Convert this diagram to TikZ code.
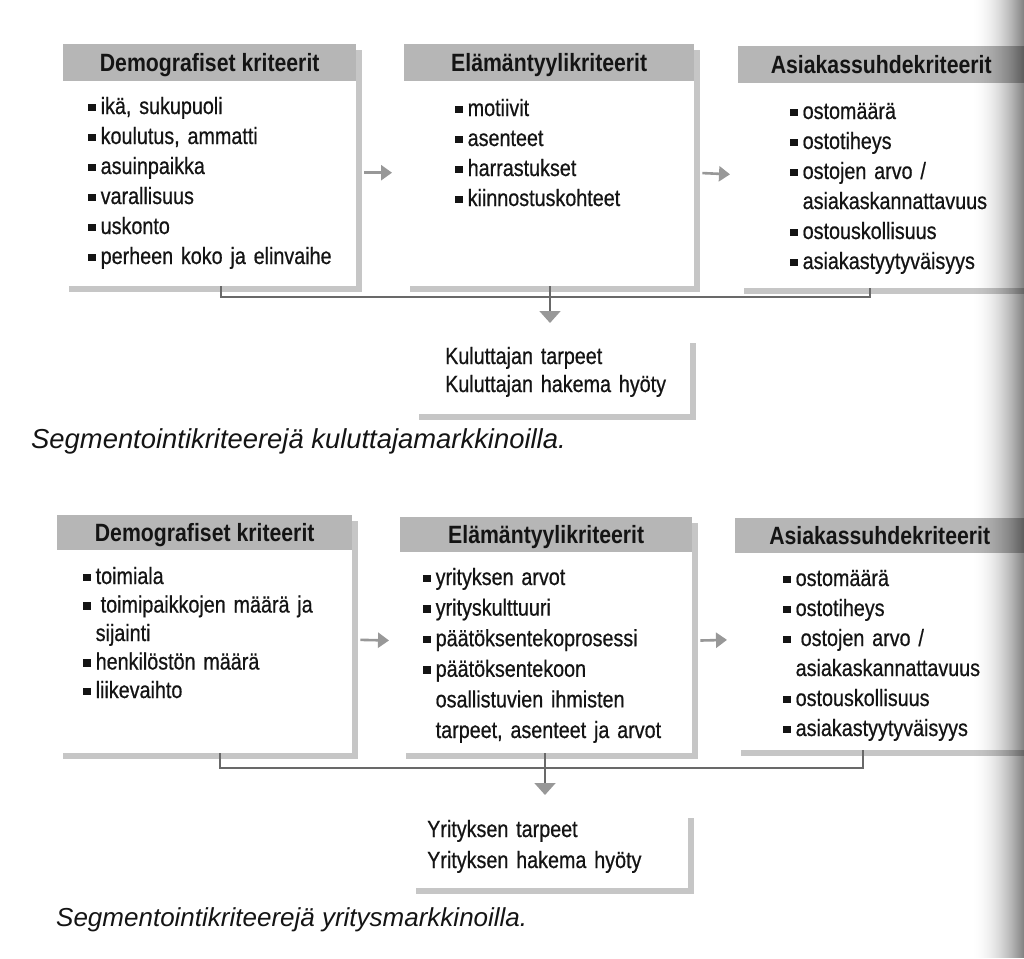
\documentclass[tikz,border=0pt]{standalone}
\usepackage{fontspec}
\newfontfamily\cond{Liberation Sans}[FakeStretch=0.85]
\newfontfamily\condm{Liberation Sans}[FakeStretch=0.84, FakeBold=0.6]
\newfontfamily\capf{Liberation Sans}
\usetikzlibrary{arrows.meta,backgrounds}
\definecolor{hdrgray}{RGB}{182,182,182}
\definecolor{shdgray}{RGB}{198,198,198}
\definecolor{arrgray}{RGB}{152,152,152}
\definecolor{lngray}{RGB}{105,105,105}
\definecolor{ink}{RGB}{20,20,20}
\newcommand{\bsq}{\raisebox{3pt}{\rule{7.5pt}{7.5pt}}\hspace{5pt}}
\newcommand{\bsqw}{\raisebox{3pt}{\rule{7.5pt}{7.5pt}}\hspace{10pt}}
\newcommand{\cnt}{\hspace{12.5pt}}
\begin{document}
\begin{tikzpicture}[x=1pt,y=-1pt,
  hdr/.style={fill=hdrgray, inner sep=0pt, anchor=north west, text=ink,
    font=\cond\bfseries\fontsize{25}{30}\selectfont, text height=18pt, text depth=0pt},
  body/.style={fill=white, inner sep=0pt, anchor=north west},
  txt/.style={inner sep=0pt, anchor=base west, text width=300pt, align=left, text=ink},
  f30/.style={font=\condm\fontsize{23.5}{30}\selectfont},
  f28/.style={font=\condm\fontsize{23.5}{28.5}\selectfont},
  f31/.style={font=\condm\fontsize{23.5}{30.6}\selectfont},
  capt/.style={inner sep=0pt, anchor=base west, text=ink},
  conn/.style={draw=lngray, line width=1.8pt},
  harrow/.style={draw=arrgray, line width=2.6pt, -{Triangle[length=11pt,width=15pt]}},
  varrow/.style={draw=lngray, line width=1.8pt, -{Triangle[length=12pt,width=21pt,color=arrgray]}}
]
\useasboundingbox (0,0) rectangle (1024,958);

% ---------- top diagram ----------
\node[hdr, minimum width=293pt, minimum height=37pt] (h1) at (63,44) {Demografiset kriteerit};
\node[body, minimum width=293pt, minimum height=205pt] (b1) at (63,81) {};
\node[hdr, minimum width=290pt, minimum height=37pt] (h2) at (404,44) {Elämäntyylikriteerit};
\node[body, minimum width=290pt, minimum height=205pt] (b2) at (404,81) {};
\node[hdr, minimum width=286pt, minimum height=37pt] (h3) at (738,46) {Asiakassuhdekriteerit};
\node[body, minimum width=286pt, minimum height=205pt] (b3) at (738,83) {};
\node[body, minimum width=277pt, minimum height=77pt] (r1) at (413,337) {};

\node[txt, f30] (t1) at (88,114) {\bsq ikä, sukupuoli\\ \bsq koulutus, ammatti\\ \bsq asuinpaikka\\ \bsq varallisuus\\ \bsq uskonto\\ \bsq perheen koko ja elinvaihe};
\node[txt, f30] (t2) at (455,116) {\bsq motiivit\\ \bsq asenteet\\ \bsq harrastukset\\ \bsq kiinnostuskohteet};
\node[txt, f30] (t3) at (790,119) {\bsq ostomäärä\\ \bsq ostotiheys\\ \bsq ostojen arvo /\\ \cnt asiakaskannattavuus\\ \bsq ostouskollisuus\\ \bsq asiakastyytyväisyys};
\node[txt, font=\condm\fontsize{23.5}{28}\selectfont] (t4) at (445,364) {Kuluttajan tarpeet\\ Kuluttajan hakema hyöty};
\node[capt, font=\capf\itshape\fontsize{27.4}{30}\selectfont] (c1) at (31,448) {Segmentointikriteerejä kuluttajamarkkinoilla.};

\draw[harrow, shorten <=8pt, shorten >=12pt] ([yshift=11pt]b1.east) -- ([yshift=11pt]b2.west);
\draw[harrow, shorten <=8pt, shorten >=8pt] ([yshift=11pt]b2.east) -- ([yshift=11pt]b3.west);
\coordinate (jl) at (221,297);
\coordinate (jm) at (550,297);
\coordinate (jr) at (870,297);
\draw[conn] (b1.south -| jl) -- (jl) -- (jr) -- (b3.south -| jr);
\draw[conn] (b2.south -| jm) -- (jm);
\draw[varrow, shorten >=14pt] (jm) -- (r1.north -| jm);

% ---------- bottom diagram ----------
\node[hdr, minimum width=295pt, minimum height=35pt] (h4) at (57,515) {Demografiset kriteerit};
\node[body, minimum width=295pt, minimum height=203pt] (b4) at (57,550) {};
\node[hdr, minimum width=292pt, minimum height=35pt] (h5) at (400,517) {Elämäntyylikriteerit};
\node[body, minimum width=292pt, minimum height=201pt] (b5) at (400,552) {};
\node[hdr, minimum width=289pt, minimum height=35pt] (h6) at (735,518) {Asiakassuhdekriteerit};
\node[body, minimum width=289pt, minimum height=197pt] (b6) at (735,553) {};
\node[body, minimum width=278pt, minimum height=76pt] (r2) at (410,812) {};

\node[txt, f28] (t5) at (83,584) {\bsq toimiala\\ \bsqw toimipaikkojen määrä ja\\ \cnt sijainti\\ \bsq henkilöstön määrä\\ \bsq liikevaihto};
\node[txt, f31] (t6) at (423,585) {\bsq yrityksen arvot\\ \bsq yrityskulttuuri\\ \bsq päätöksentekoprosessi\\ \bsq päätöksentekoon\\ \cnt osallistuvien ihmisten\\ \cnt tarpeet, asenteet ja arvot};
\node[txt, f30] (t7) at (783,586) {\bsq ostomäärä\\ \bsq ostotiheys\\ \bsqw ostojen arvo /\\ \cnt asiakaskannattavuus\\ \bsq ostouskollisuus\\ \bsq asiakastyytyväisyys};
\node[txt, font=\condm\fontsize{23.5}{31}\selectfont] (t8) at (427,837) {Yrityksen tarpeet\\ Yrityksen hakema hyöty};
\node[capt, font=\capf\itshape\fontsize{26}{30}\selectfont] (c2) at (56,926) {Segmentointikriteerejä yritysmarkkinoilla.};

\draw[harrow, shorten <=8pt, shorten >=11pt] ([yshift=12pt]b4.east) -- ([yshift=12pt]b5.west);
\draw[harrow, shorten <=8pt, shorten >=8pt] ([yshift=12pt]b5.east) -- ([yshift=12pt]b6.west);
\coordinate (kl) at (220,768);
\coordinate (km) at (545,768);
\coordinate (kr) at (863,768);
\draw[conn] (b4.south -| kl) -- (kl) -- (kr) -- (b6.south -| kr);
\draw[conn] (b5.south -| km) -- (km);
\draw[varrow, shorten >=17pt] (km) -- (r2.north -| km);

% ---------- page background and shadows ----------
\begin{scope}[on background layer]
  \fill[white] (0,0) rectangle (1024,958);
  \foreach \h/\b in {h1/b1,h2/b2,h3/b3,h4/b4,h5/b5,h6/b6,r1/r1,r2/r2}{
    \fill[shdgray] ([shift={(6,6)}]\h.north west) rectangle ([shift={(6,6)}]\b.south east);
  }
\end{scope}

% ---------- page curl shading on the right edge ----------
\foreach \i in {0,...,54}{
  \pgfmathsetmacro{\op}{0.5*(\i/54)^2}
  \fill[black, opacity=\op] (970+\i,0) rectangle (971.1+\i,958);
}
\end{tikzpicture}
\end{document}
